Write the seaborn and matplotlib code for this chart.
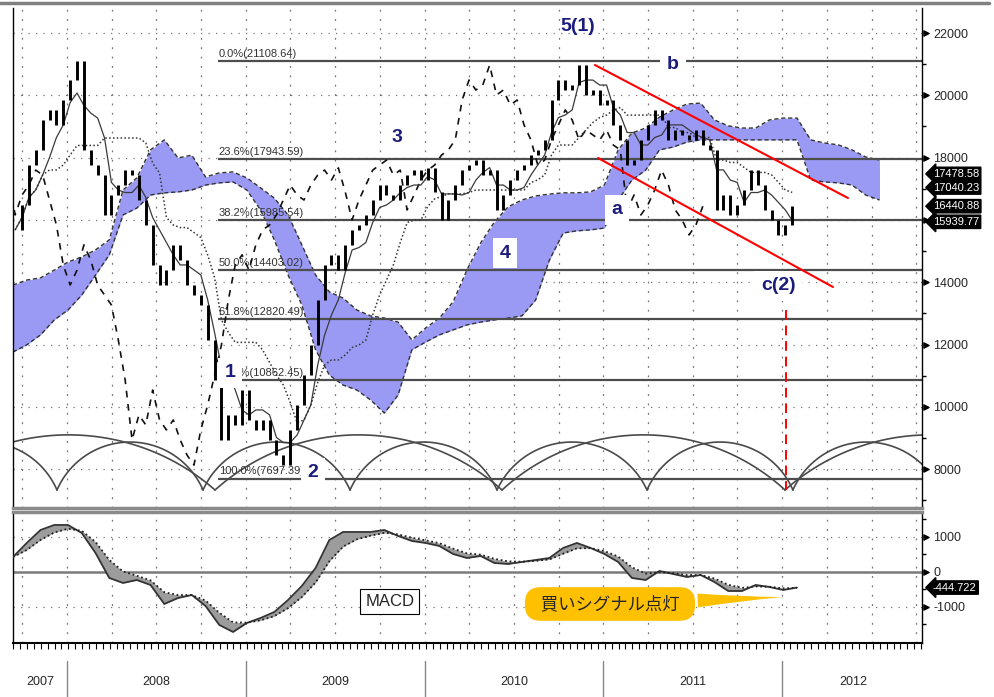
import numpy as np
import pandas as pd
import matplotlib
matplotlib.use("Agg")
import matplotlib.pyplot as plt
from matplotlib.lines import Line2D
import seaborn as sns

# ---- data ----
# closes, every 2 weeks from late Sep 2007
price_start = 2007.71
price_step = 2 / 52
close = [15680, 16480, 17760, 18250, 19210, 19530, 19050, 19850, 20490, 21100,
         18250, 17760, 17440, 16160, 16800, 17120, 17600, 17440, 16640, 15840,
         14550, 13910, 14390, 15200, 14710, 13910, 13590, 13270, 12150, 10860,
         8940, 9740, 9420, 10540, 9580, 9260, 9580, 8940, 8450, 8130,
         9260, 10060, 11020, 11990, 13430, 14550, 14880, 14390, 15200, 15680,
         15840, 16160, 16640, 17120, 16800, 16640, 17120, 17440, 17600, 17280,
         17670, 16900, 16000, 16640, 17120, 17600, 17760, 17920, 17440, 17600,
         16320, 16800, 17280, 17600, 17760, 18080, 18250, 18570, 19850, 20490,
         20170, 20330, 20970, 20010, 20170, 19690, 19850, 19050, 18570, 17760,
         17920, 18570, 19050, 19530, 19210, 18570, 18890, 18730, 18570, 18890,
         18400, 18250, 16320, 16800, 16160, 16480, 16960, 17600, 17120, 16320,
         16000, 15520, 15840, 16440.88]

# ichimoku cloud edges, every 4 weeks
cloud_start = 2007.698
cloud_step = 4 / 52
span_a = [13910, 14070, 14140, 14390, 14650, 14810, 15040, 15360, 16960, 17350,
          18250, 18570, 17990, 18080, 17380, 17510, 17540, 17350, 17030, 16700,
          16160, 15200, 14230, 13690, 13490, 13110, 12920, 12850, 12720, 12150,
          12530, 12850, 13370, 14390, 15260, 15930, 16420, 16640, 16770, 16830,
          16870, 16870, 16900, 17120, 18250, 18790, 18950, 19300, 19530, 19720,
          19750, 19210, 19020, 18950, 18950, 19210, 19270, 19270, 18570, 18470,
          18410, 18250, 18020, 17920]
span_b = [11760, 11990, 12310, 12790, 13110, 13590, 14230, 14880, 16160, 16380,
          16800, 16870, 16900, 16960, 17120, 17190, 17220, 16960, 16320, 15360,
          14230, 13270, 11830, 11020, 10700, 10540, 10220, 9800, 10380, 11830,
          12080, 12310, 12470, 12630, 12720, 12790, 12850, 12920, 13430, 14710,
          15580, 15650, 15680, 15740, 16640, 17280, 17600, 18250, 18340, 18500,
          18570, 18570, 18570, 18570, 18570, 18570, 18570, 18570, 17280, 17220,
          17190, 17120, 16800, 16640]

# MACD, every 4 weeks
macd = [429, 829, 1200, 1343, 1343, 1114, 543, -171, -314, -229,
        -371, -914, -743, -657, -971, -1514, -1714, -1457, -1314, -1143,
        -800, -400, 114, 914, 1143, 1143, 1143, 1200, 1029, 886,
        829, 743, 514, 400, 457, 257, 229, 286, 343, 400,
        686, 829, 686, 514, 286, -171, -229, 29, -57, -143,
        -86, -286, -543, -543, -371, -429, -514, -444.722]

fib_pct = ["0.0", "23.6", "38.2", "50.0", "61.8", "76.4", "100.0"]
fib_val = [21108.64, 17943.59, 15985.54, 14403.02, 12820.49, 10862.45, 7697.39]
fib_from = 2008.845

waves = ["5(1)", "b", "3", "a", "4", "c(2)", "1", "2"]
wave_x = [2010.858, 2011.389, 2009.846, 2011.076, 2010.450, 2011.977, 2008.912, 2009.376]
wave_y = [22200, 20974, 18630, 16319, 14938, 13880, 11087, 7877]
wave_box = [False, True, False, True, True, True, True, True]

channel_upper = ([2010.953, 2012.368], [20973, 16704])
channel_lower = ([2010.970, 2012.284], [17988, 13847])
target_x = 2012.021

# cycle lows (short and long cycles)
cycle_short = [2007.128, 2007.944, 2008.761, 2009.583, 2010.405, 2011.244, 2012.060, 2012.883]
cycle_long = [2007.189, 2008.828, 2010.433, 2012.016, 2013.638]
arc_base, short_top, long_top = 7330, 8870, 9100

tags = ["17478.58", "17040.23", "16440.88", "15939.77"]
tag_vals = [17478.58, 17040.23, 16440.88, 15939.77]
tag_macd = "-444.722"
years = ["2007", "2008", "2009", "2010", "2011", "2012"]
year_pos = [2007.85, 2008.5, 2009.5, 2010.5, 2011.5, 2012.40]

# ---- derived series ----
t_price = price_start + price_step * np.arange(len(close))
cs = pd.Series(close)
tenkan = (cs.rolling(5, min_periods=1).max() + cs.rolling(5, min_periods=1).min()) / 2
kijun = (cs.rolling(13, min_periods=1).max() + cs.rolling(13, min_periods=1).min()) / 2
t_cloud = cloud_start + cloud_step * np.arange(len(span_a))
t_macd = cloud_start + cloud_step * np.arange(len(macd))
signal = pd.Series(macd).ewm(span=3, adjust=False).mean()

sns.set_theme(style="white")
plt.rcParams['font.family'] = ['Liberation Sans', 'Noto Sans CJK JP', 'DejaVu Sans']
NARROW = ['Liberation Sans', 'DejaVu Sans']

fig = plt.figure(figsize=(9.94, 6.97), dpi=100)
ax = fig.add_axes([13/994, 189/697, 909/994, 500/697])
ax2 = fig.add_axes([13/994, 54/697, 909/994, 131/697], sharex=ax)
x0, x1 = 2007.698, 2012.782
ax.set_xlim(x0, x1)
ax.set_ylim(6753, 22803)
ax2.set_ylim(-2029, 1714)

quarters = np.arange(2007.75, 2012.8, 0.25)
for a in (ax, ax2):
    for q in quarters:
        a.axvline(q, color='#777777', lw=0.9, ls=(0, (1.5, 6)), zorder=0)
for lv in range(8000, 22001, 2000):
    ax.axhline(lv, color='#777777', lw=0.9, ls=(0, (1, 5)), zorder=0)
for lv in (1000, -1000):
    ax2.axhline(lv, color='#777777', lw=0.9, ls=(0, (1, 5)), zorder=0)

# cloud
ax.fill_between(t_cloud, span_a, span_b, color='#9a9af5', lw=0, zorder=1)
ax.plot(t_cloud, span_a, color='#333333', lw=1.0, ls=(0, (3, 2)), zorder=2)
ax.plot(t_cloud, span_b, color='#333333', lw=1.0, ls=(0, (3, 2)), zorder=2)

# fib retracement
ax.hlines(fib_val, fib_from, x1, color='#4d4d4d', lw=1.6, zorder=2)
for p, v in zip(fib_pct, fib_val):
    ax.text(fib_from + 0.003, v + 70, f"{p}%({v:.2f})", family=NARROW,
            fontsize=8, color='#333333', va='bottom', ha='left', zorder=3)

# cycle arcs
ppy, ppt = 178.8, 1 / 32.1
for lows, top in ((cycle_short, short_top), (cycle_long, long_top)):
    for xa, xb in zip(lows[:-1], lows[1:]):
        w = (xb - xa) / 2 * ppy
        s = (top - arc_base) * ppt
        r = (w * w + s * s) / (2 * s)
        u = np.linspace(-w, w, 120)
        h = np.sqrt(r * r - u * u) - (r - s)
        ax.plot((xa + xb) / 2 + u / ppy, arc_base + h / ppt, color='#4a4a4a', lw=1.2, zorder=2)

# chikou, tenkan, kijun
ax.plot(t_price - 0.5, close, color='#111111', lw=1.2, ls=(0, (4, 4)), zorder=3)
sns.lineplot(x=t_price, y=tenkan, ax=ax, color='#3a3a3a', lw=0.9, zorder=3)
ax.plot(t_price, kijun, color='#333333', lw=1.1, ls=(0, (1, 1.5)), zorder=3)

# candles
opens = [close[0]] + close[:-1]
ax.vlines(t_price, np.minimum(opens, close), np.maximum(opens, close),
          color='black', lw=2.1, zorder=4)

# red channel
ax.plot(*channel_upper, color='#ff0000', lw=1.5, zorder=5)
ax.plot(*channel_lower, color='#ff0000', lw=1.5, zorder=5)
ax.plot([target_x, target_x], [13110, 7330], color='#ff0000', lw=1.4, ls=(0, (5, 3)), zorder=5)

for lab, wx, wy, bx in zip(waves, wave_x, wave_y, wave_box):
    kw = dict(boxstyle='square,pad=0.35', fc='white', ec='none') if bx else None
    ax.text(wx, wy, lab, fontsize=14, fontweight='bold', color='#1c1c7c',
            ha='center', va='center', bbox=kw, zorder=6)

# right axis
for a in (ax, ax2):
    a.yaxis.tick_right()
    a.tick_params(axis='y', which='major', length=0, pad=8, labelsize=9)
    a.tick_params(axis='y', which='minor', length=3, color='black', right=True, direction='out')
    a.tick_params(axis='x', which='both', bottom=False, labelbottom=False)
    a.set_xlabel('')
    a.set_ylabel('')
ax.set_yticks(range(8000, 22001, 2000))
ax.set_yticks(range(7000, 22001, 1000), minor=True)
ax.set_yticklabels([str(v) for v in range(8000, 22001, 2000)], family=NARROW, fontsize=9)
ax2.set_yticks([-1000, 0, 1000])
ax2.set_yticks([-1500, -500, 500, 1500], minor=True)
ax2.set_yticklabels(["-1000", "0", "1000"], family=NARROW, fontsize=9)
ax.scatter([1.004] * 8, range(8000, 22001, 2000), marker='>', s=14, color='black',
           transform=ax.get_yaxis_transform(), clip_on=False, zorder=6)
ax2.scatter([1.004] * 3, [-1000, 0, 1000], marker='>', s=14, color='black',
            transform=ax2.get_yaxis_transform(), clip_on=False, zorder=6)

for txt, v in zip(tags, tag_vals):
    ax.text(1.012, v, txt, transform=ax.get_yaxis_transform(), family=NARROW, fontsize=8,
            color='white', va='center', ha='left', clip_on=False, zorder=8,
            bbox=dict(boxstyle='larrow,pad=0.15', fc='black', ec='black'))
ax2.text(1.012, -444.722, tag_macd, transform=ax2.get_yaxis_transform(), family=NARROW,
         fontsize=8, color='white', va='center', ha='left', clip_on=False, zorder=8,
         bbox=dict(boxstyle='larrow,pad=0.15', fc='black', ec='black'))

# MACD panel
ax2.axhline(0, color='#7a7a7a', lw=1.8, zorder=1)
ax2.fill_between(t_macd, macd, signal, color='#9c9c9c', lw=0, zorder=2)
sns.lineplot(x=t_macd, y=macd, ax=ax2, color='#333333', lw=1.3, zorder=3)
ax2.plot(t_macd, signal, color='#222222', lw=1.3, ls=(0, (1, 1.5)), zorder=3)
ax2.set_ylabel('')
ax.set_ylabel('')
ax2.text(2009.806, -829, "MACD", fontsize=12, ha='center', va='center',
         bbox=dict(boxstyle='square,pad=0.3', fc='white', ec='black', lw=0.8), zorder=6)
ax2.annotate("  買いシグナル点灯  ", xy=(2012.016, -714), xytext=(2011.037, -914),
             ha='center', va='center', fontsize=12.5,
             family=['Noto Sans CJK JP', 'DejaVu Sans'],
             bbox=dict(boxstyle='round,pad=0.45,rounding_size=0.9', fc='#FFC000', ec='none'),
             arrowprops=dict(arrowstyle='wedge,tail_width=0.8,shrink_factor=0.4',
                             fc='#FFC000', ec='none', connectionstyle='arc3'),
             zorder=6)

ax2.set_xticks(np.arange(2007.70, 2012.79, 1 / 26), minor=True)
ax2.tick_params(axis='x', which='minor', bottom=True, length=4, width=0.8,
                color='black', direction='out')

# spines
for a in (ax, ax2):
    for sp in a.spines.values():
        sp.set_color('black')
        sp.set_linewidth(1.0)
ax.spines['top'].set_visible(False)
ax.spines['bottom'].set_color('#8a8a8a')
ax.spines['bottom'].set_linewidth(2.5)
ax2.spines['top'].set_color('#8a8a8a')
ax2.spines['top'].set_linewidth(2.5)
ax2.spines['bottom'].set_linewidth(1.5)

# years
xt = ax2.get_xaxis_transform()
for lab, xp in zip(years, year_pos):
    ax2.text(xp, -0.30, lab, transform=xt, family=NARROW, fontsize=9,
             ha='center', va='center', clip_on=False)
for yb in range(2008, 2013):
    ax2.plot([yb, yb], [-0.14, -0.42], transform=xt, color='#888888', lw=1.0, clip_on=False)

fig.add_artist(Line2D([0, 0.995], [1 - 3 / 697] * 2, color='#808080', lw=2.5))

fig.savefig("out.png", dpi=100)
